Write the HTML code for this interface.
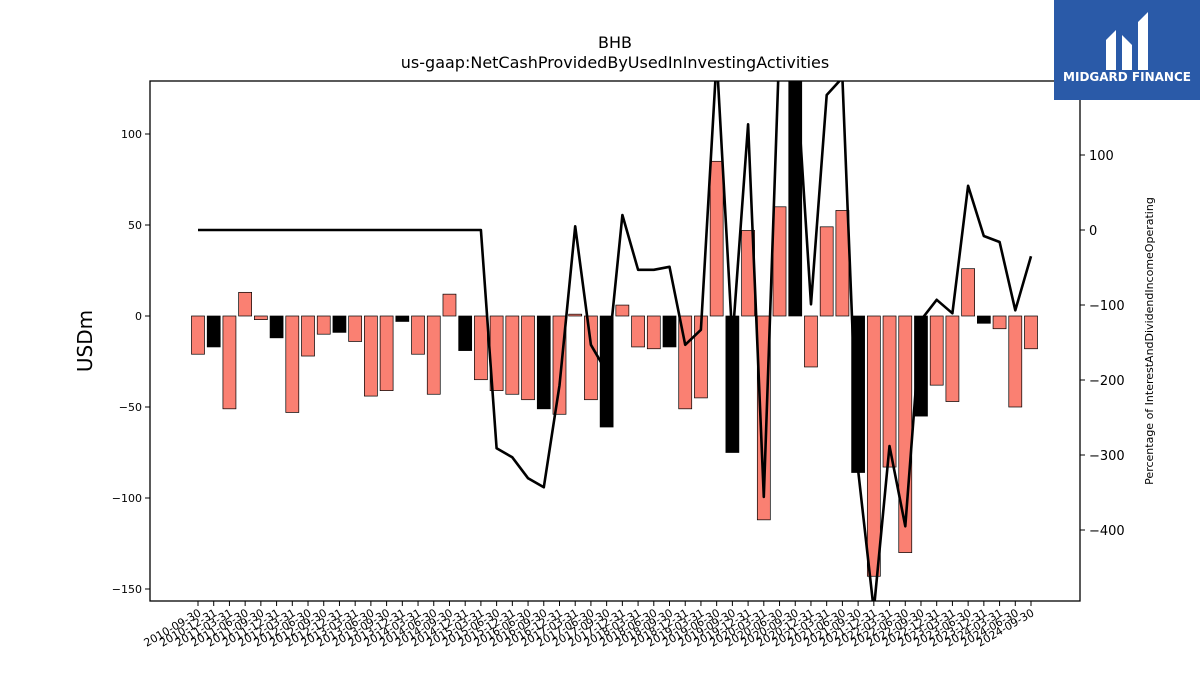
<!DOCTYPE html>
<html><head><meta charset="utf-8"><style>
body{margin:0;background:#fff;font-family:"Liberation Sans","DejaVu Sans",sans-serif}
svg text{font-family:"DejaVu Sans","Liberation Sans",sans-serif}
</style></head><body>
<svg id="c" width="1200" height="675" xmlns="http://www.w3.org/2000/svg">
<defs><clipPath id="pa"><rect x="150" y="81" width="930" height="520"/></clipPath></defs>
<text x="615" y="48" text-anchor="middle" font-size="16">BHB</text>
<text x="615" y="68" text-anchor="middle" font-size="16">us-gaap:NetCashProvidedByUsedInInvestingActivities</text>
<text transform="translate(92,341) rotate(-90)" text-anchor="middle" font-size="20">USDm</text>
<text transform="translate(1153,341) rotate(-90)" text-anchor="middle" font-size="11">Percentage of InterestAndDividendIncomeOperating</text>
<g id="bars" clip-path="url(#pa)"></g>
<g id="line" clip-path="url(#pa)"></g>
<g id="axes"></g>
<rect x="150" y="81" width="930" height="520" fill="none" stroke="#000" stroke-width="1.3"/>
<g>
<rect x="1054" y="0" width="146" height="100" fill="#2a5aa8"/>
<path d="M1106 70 V40 L1116 30 V70 Z M1122 70 V35 L1132 45 V70 Z M1138 70 V22 L1148 12 V70 Z" fill="#fff"/>
<text x="1127" y="81" text-anchor="middle" font-size="12" font-weight="bold" fill="#fff">MIDGARD FINANCE</text>
</g>
</svg>
<script>
const labels=["2010-09-30","2010-12-31","2011-03-31","2011-06-30","2011-09-30","2011-12-31","2012-03-31","2012-06-30","2012-09-30","2012-12-31","2013-03-31","2013-06-30","2013-09-30","2013-12-31","2014-03-31","2014-06-30","2014-09-30","2014-12-31","2015-03-31","2015-06-30","2015-12-31","2016-06-30","2016-09-30","2016-12-31","2017-03-31","2017-06-30","2017-09-30","2017-12-31","2018-03-31","2018-06-30","2018-09-30","2018-12-31","2019-03-31","2019-06-30","2019-09-30","2019-12-31","2020-03-31","2020-06-30","2020-09-30","2020-12-31","2021-03-31","2021-06-30","2021-09-30","2021-12-31","2022-03-31","2022-06-30","2022-09-30","2022-12-31","2023-03-31","2023-06-30","2023-12-31","2024-03-31","2024-06-30","2024-09-30"];
const barValues=[-21,-17,-51,13,-2,-12,-53,-22,-10,-9,-14,-44,-41,-3,-21,-43,12,-19,-35,-41,-43,-46,-51,-54,1,-46,-61,6,-17,-18,-17,-51,-45,85,-75,47,-112,60,130,-28,49,58,-86,-143,-83,-130,-55,-38,-47,26,-4,-7,-50,-18];
const barDark=[0,1,0,0,0,1,0,0,0,1,0,0,0,1,0,0,0,1,0,0,0,0,1,0,0,0,1,0,0,0,1,0,0,0,1,0,0,0,1,0,0,0,1,0,0,0,1,0,0,0,1,0,0,0];
const lineValues=[0,0,0,0,0,0,0,0,0,0,0,0,0,0,0,0,0,0,0,-291,-303,-331,-343,-207,5,-153,-189,20,-53,-53,-49,-153,-133,230,-147,141,-356,250,230,-99,180,203,-320,-507,-288,-395,-120,-93,-111,59,-8,-16,-107,-35];
const leftTicks=[-150,-100,-50,0,50,100];
const rightTicks=[-400,-300,-200,-100,0,100];
const NS="http://www.w3.org/2000/svg";
const x0=198,dx=(1031-198)/(labels.length-1);
const xs=i=>x0+i*dx;
const yL=v=>316-v*1.82;
const yR=v=>230-v*0.75;
function mk(t,a,p){const e=document.createElementNS(NS,t);for(const k in a)e.setAttribute(k,a[k]);p.appendChild(e);return e;}
const bars=document.getElementById('bars'),line=document.getElementById('line'),axes=document.getElementById('axes');
barValues.forEach((v,i)=>{
 const y1=yL(Math.max(v,0)),y2=yL(Math.min(v,0));
 const r=mk('rect',{x:xs(i)-6.5,y:y1,width:13,height:Math.max(y2-y1,0.8),fill:barDark[i]?'#000':'#fa8072',stroke:'#000','stroke-width':0.7},bars);
 
 
});
const pts=lineValues.map((v,i)=>xs(i).toFixed(1)+','+yR(v).toFixed(1)).join(' ');
const pl=mk('polyline',{points:pts,fill:'none',stroke:'#000','stroke-width':2.6,'stroke-linejoin':'round'},line);


leftTicks.forEach(t=>{
 const y=yL(t);
 mk('line',{x1:145,x2:150,y1:y,y2:y,stroke:'#000'},axes);
 const tx=mk('text',{x:142,y:y+4,'text-anchor':'end','font-size':11},axes);tx.textContent=t===-0?'0':String(t).replace('-','\u2212');
 
 
});
rightTicks.forEach(t=>{
 const y=yR(t);
 mk('line',{x1:1080,x2:1085,y1:y,y2:y,stroke:'#000'},axes);
 const tx=mk('text',{x:1089,y:y+5,'font-size':13},axes);tx.textContent=String(t).replace('-','\u2212');
 
 
});
labels.forEach((l,i)=>{
 const x=xs(i);
 mk('line',{x1:x,x2:x,y1:601,y2:606,stroke:'#000'},axes);
 const tx=mk('text',{x:0,y:0,'text-anchor':'end','font-size':11,transform:`translate(${x+4},${615}) rotate(-30)`},axes);
 tx.textContent=l;
 
 
});
</script>
</body></html>
